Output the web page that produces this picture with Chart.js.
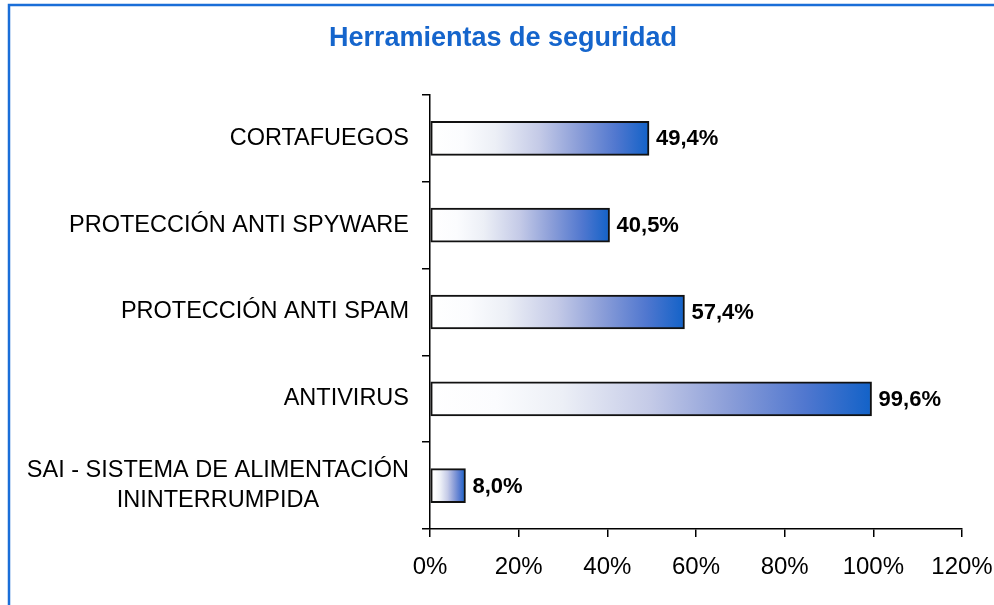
<!DOCTYPE html>
<html>
<head>
<meta charset="utf-8">
<script src="https://cdn.jsdelivr.net/npm/chart.js@4.4.1/dist/chart.umd.min.js"></script>
<style>
  html, body { margin: 0; padding: 0; background: #fff; }
  #wrap { width: 994px; height: 605px; position: relative; }
</style>
</head>
<body>
<div id="wrap"><canvas id="chart" width="994" height="605"></canvas></div>
<script>
const categories = [
  'CORTAFUEGOS',
  'PROTECCIÓN ANTI SPYWARE',
  'PROTECCIÓN ANTI SPAM',
  'ANTIVIRUS',
  ['SAI - SISTEMA DE ALIMENTACIÓN', 'ININTERRUMPIDA']
];
const values = [49.4, 40.5, 57.4, 99.6, 8.0];
const valueLabels = ['49,4%', '40,5%', '57,4%', '99,6%', '8,0%'];
const tickValues = [0, 20, 40, 60, 80, 100, 120];
const titleText = 'Herramientas de seguridad';

const FONT = '"Liberation Sans", Arial, sans-serif';

// gradient for each bar, from its base to its end
function barGradient(context) {
  const chart = context.chart;
  const { ctx, chartArea } = chart;
  if (!chartArea) return '#1262c8';
  const x = chart.scales.x;
  const x0 = x.getPixelForValue(0);
  const x1 = x.getPixelForValue(values[context.dataIndex]);
  const g = ctx.createLinearGradient(x0, 0, x1, 0);
  g.addColorStop(0, '#ffffff');
  g.addColorStop(0.15, '#fbfcfe');
  g.addColorStop(0.3, '#eceff6');
  g.addColorStop(0.5, '#c4cae7');
  g.addColorStop(0.68, '#8a9dd8');
  g.addColorStop(0.85, '#5077cf');
  g.addColorStop(1, '#1262c8');
  return g;
}

// blue frame round the chart + title
const framePlugin = {
  id: 'frame',
  beforeDraw(chart) {
    const ctx = chart.ctx;
    ctx.save();
    ctx.strokeStyle = '#1a6ed8';
    ctx.lineWidth = 2.5;
    ctx.beginPath();
    ctx.moveTo(9, 605);
    ctx.lineTo(9, 5);
    ctx.lineTo(994, 5);
    ctx.stroke();
    ctx.font = 'bold 27px ' + FONT;
    ctx.fillStyle = '#1565cc';
    ctx.textAlign = 'center';
    ctx.textBaseline = 'middle';
    ctx.fillText(titleText, 503, 39);
    ctx.restore();
  }
};

// category labels: right aligned to the axis, lines of one label centred together
const catLabelPlugin = {
  id: 'catLabels',
  afterDraw(chart) {
    const ctx = chart.ctx;
    const y = chart.scales.y;
    const right = chart.chartArea.left - 21;
    ctx.save();
    ctx.font = '23.5px ' + FONT;
    ctx.fillStyle = '#000';
    ctx.textBaseline = 'middle';
    ctx.textAlign = 'center';
    categories.forEach((label, i) => {
      const lines = Array.isArray(label) ? label : [label];
      const maxW = Math.max(...lines.map(l => ctx.measureText(l).width));
      const cx = right - maxW / 2;
      const lh = 30;
      const cy = y.getPixelForValue(i) - (lines.length - 1) * lh / 2;
      lines.forEach((l, j) => ctx.fillText(l, cx, cy + j * lh));
    });
    ctx.restore();
  }
};

// value labels at the end of each bar
const valueLabelPlugin = {
  id: 'valueLabels',
  afterDatasetsDraw(chart) {
    const ctx = chart.ctx;
    const meta = chart.getDatasetMeta(0);
    ctx.save();
    ctx.font = 'bold 22px ' + FONT;
    ctx.fillStyle = '#000';
    ctx.textAlign = 'left';
    ctx.textBaseline = 'middle';
    meta.data.forEach((bar, i) => {
      ctx.fillText(valueLabels[i], bar.x + 7, bar.y + 1);
    });
    ctx.restore();
  }
};

new Chart(document.getElementById('chart'), {
  type: 'bar',
  data: {
    labels: categories,
    datasets: [{
      data: values,
      backgroundColor: barGradient,
      borderColor: '#111',
      borderWidth: 2,
      borderSkipped: false,
      barThickness: 34
    }]
  },
  options: {
    indexAxis: 'y',
    responsive: false,
    animation: false,
    layout: { padding: { left: 0, right: 32, top: 95, bottom: 0 } },
    plugins: {
      legend: { display: false },
      tooltip: { enabled: false },
      title: { display: false }
    },
    scales: {
      x: {
        min: 0,
        max: 120,
        afterBuildTicks(scale) {
          scale.ticks = tickValues.map(v => ({ value: v }));
        },
        afterFit(scale) {
          scale.height = 76;
          scale.paddingLeft = 0;
          scale.paddingRight = 0;
        },
        border: { display: true, color: '#000', width: 1.5 },
        grid: { drawOnChartArea: false, drawTicks: true, tickLength: 8, color: '#000', lineWidth: 1.5 },
        ticks: {
          color: '#000',
          padding: 16,
          maxRotation: 0,
          autoSkip: false,
          font: { family: FONT, size: 24 },
          callback: v => v + '%'
        }
      },
      y: {
        afterFit(scale) {
          scale.width = 430;
          scale.paddingTop = 0;
          scale.paddingBottom = 0;
        },
        border: { display: true, color: '#000', width: 1.5 },
        grid: { drawOnChartArea: false, drawTicks: true, tickLength: 8, color: '#000', lineWidth: 1.5, offset: true },
        ticks: { color: 'rgba(0,0,0,0)', font: { family: FONT, size: 12 } }
      }
    }
  },
  plugins: [framePlugin, catLabelPlugin, valueLabelPlugin]
});
</script>
</body>
</html>
